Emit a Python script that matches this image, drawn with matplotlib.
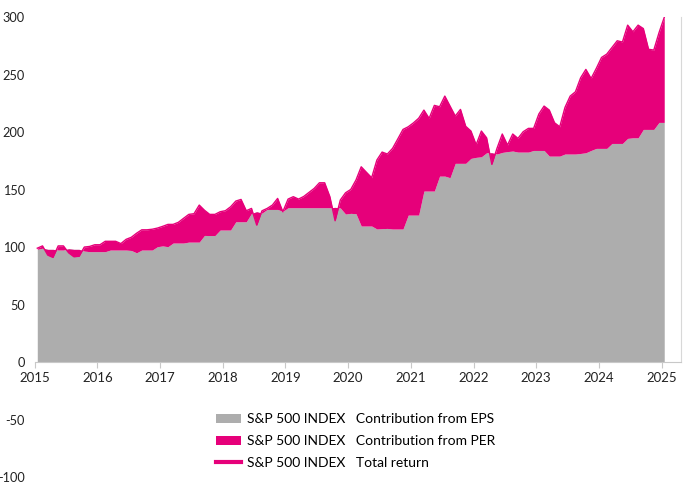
import numpy as np
import matplotlib
matplotlib.use("Agg")
import matplotlib.pyplot as plt
from matplotlib.patches import Patch
from matplotlib.lines import Line2D

plt.rcParams["font.family"] = ["Lato", "DejaVu Sans"]
plt.rcParams["axes.unicode_minus"] = False

# monthly points, Jan 2015 .. Jan 2025 (rebased to 100)
total_return = [
    99, 101, 93, 91, 101, 101, 95, 91.6, 92, 100, 100.5, 102,
    102, 105, 105, 105, 103, 106.7, 108.5, 112, 115, 115, 115.5, 116.5,
    118, 119.7, 119.7, 121.5, 125, 128.4, 129, 136.5, 132, 128.4, 128.4, 130.7,
    131.6, 135, 140, 141.4, 131.6, 133.6, 119.1, 131.5, 133.6, 136.5, 142.3, 130.7,
    141.7, 143.8, 141.7, 144, 147.5, 151, 155.9, 155.9, 143.8, 122.9, 140.9, 147.2,
    150.1, 158.3, 169.8, 165, 160.3, 175.7, 182.6, 180.9, 185.8, 194, 202.3, 204.6,
    208, 212, 219.1, 211.9, 223.2, 222, 231.3, 222.6, 213.9, 219.7, 205, 200.9,
    189, 200.9, 195, 171.9, 186, 198.3, 188.7, 198.3, 194.5, 200.3, 203.2, 203.2,
    215.7, 222.6, 219.1, 208.1, 204.6, 221.4, 231.3, 235, 247.2, 254.5, 246.6, 255.4,
    264.9, 267.8, 273.6, 279.4, 278.3, 293, 287.2, 293, 290, 272, 271.3, 286.4,
    299.7,
]
eps_contrib = [
    98, 99, 98, 98, 97.4, 97.4, 98.5, 98, 98, 96.5, 96, 96,
    96, 96, 97.4, 97.4, 97.4, 97.4, 97, 95, 97.4, 97.4, 97.4, 100.3,
    101, 100.3, 103.5, 103.5, 103.5, 104.3, 104.3, 104.3, 110.1, 110, 110, 114.8,
    114.8, 114.8, 122, 122, 122, 129.3, 130.7, 129.5, 132.7, 132.7, 132.7, 131,
    134.2, 134.2, 134.2, 134.2, 134.2, 134.2, 134.2, 134.2, 134.2, 134.5, 134, 128.7,
    129.3, 129, 118.3, 118.3, 118.3, 115.7, 116, 116.2, 115.7, 115.7, 115.7, 127.8,
    127.8, 127.8, 148.7, 148.7, 148.7, 161.7, 161.7, 160.3, 172.8, 172.8, 172.8, 177.1,
    178, 178.5, 182, 182, 180.9, 182.3, 183, 183.5, 182.6, 182.6, 182.6, 184,
    184, 184, 179.1, 179.1, 179.1, 180.9, 180.9, 180.9, 181.4, 182, 184, 185.8,
    185.8, 185.8, 190.1, 190.1, 190.1, 194.5, 195, 195, 202.3, 202.3, 202.3, 208.4,
    208.4,
]
years = list(range(2015, 2026))
y_ticks = [-100, -50, 0, 50, 100, 150, 200, 250, 300]

GREY = "#adadad"
PINK = "#e6007a"

t = 2015 + (np.arange(len(total_return)) + 0.5) / 12

fig = plt.figure(figsize=(6.84, 4.88), dpi=100)
ax = fig.add_axes([0.0507, 0.0225, 0.945, 0.9425])

ax.fill_between(t, 0, eps_contrib, color=GREY, linewidth=0)
ax.fill_between(t, eps_contrib, total_return, color=PINK, linewidth=0)
ax.plot(t, total_return, color=PINK, linewidth=1)

ax.set_xlim(2015, 2025.31)
ax.set_ylim(-100, 300)
ax.set_xticks(years)
ax.set_yticks(y_ticks)

for s in ["left", "top"]:
    ax.spines[s].set_visible(False)
ax.spines["bottom"].set_position(("data", 0))
ax.spines["bottom"].set_color("#c8c8c8")
ax.spines["right"].set_color("#d8d8d8")
ax.spines["right"].set_bounds(0, 300)

ax.tick_params(axis="x", colors="#c8c8c8", labelcolor="#222222", length=4,
               labelsize=9.5, pad=3)
ax.tick_params(axis="y", length=0, labelsize=9.2, labelcolor="#222222", pad=7)

handles = [
    Patch(facecolor=GREY, edgecolor="none"),
    Patch(facecolor=PINK, edgecolor="none"),
    Line2D([0], [0], color=PINK, linewidth=3),
]
labels = [
    "S&P 500 INDEX   Contribution from EPS",
    "S&P 500 INDEX   Contribution from PER",
    "S&P 500 INDEX   Total return",
]
fig.legend(handles, labels, loc="center left", bbox_to_anchor=(0.297, 0.096),
           frameon=False, fontsize=10, handlelength=1.8, handleheight=0.6,
           handletextpad=0.45, labelspacing=0.7)

fig.savefig("out.png", dpi=100)
